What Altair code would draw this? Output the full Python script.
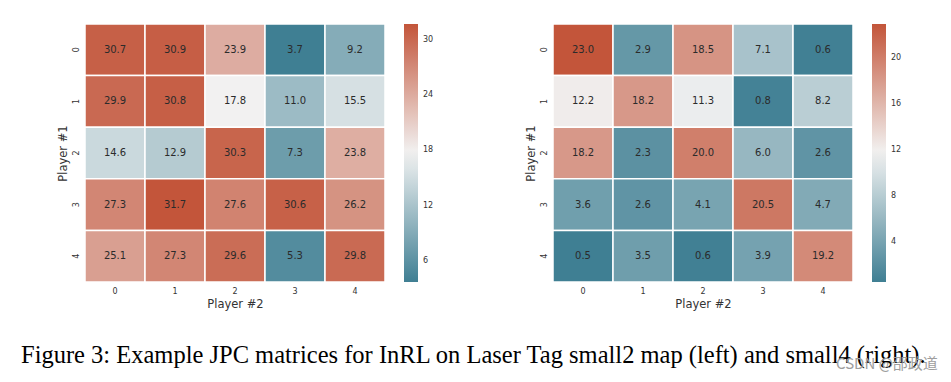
import altair as alt
import pandas as pd

players = [0, 1, 2, 3, 4]
left_values = [
    [30.7, 30.9, 23.9, 3.7, 9.2],
    [29.9, 30.8, 17.8, 11.0, 15.5],
    [14.6, 12.9, 30.3, 7.3, 23.8],
    [27.3, 31.7, 27.6, 30.6, 26.2],
    [25.1, 27.3, 29.6, 5.3, 29.8],
]
right_values = [
    [23.0, 2.9, 18.5, 7.1, 0.6],
    [12.2, 18.2, 11.3, 0.8, 8.2],
    [18.2, 2.3, 20.0, 6.0, 2.6],
    [3.6, 2.6, 4.1, 20.5, 4.7],
    [0.5, 3.5, 0.6, 3.9, 19.2],
]
left_ticks = [6, 12, 18, 24, 30]
right_ticks = [4, 8, 12, 16, 20]
x_title = "Player #2"
y_title = "Player #1"
caption = "Figure 3: Example JPC matrices for InRL on Laser Tag small2 map (left) and small4 (right)."
watermark = "CSDN @邵政道"
palette = ["#3f7f93", "#f2f2f2", "#c3553a"]

FONT = "DejaVu Sans"
INK = "#333333"


def to_df(values):
    rows = []
    for i, row in enumerate(values):
        for j, v in enumerate(row):
            rows.append({"p1": players[i], "p2": players[j], "v": v})
    return pd.DataFrame(rows)


def heatmap(values, ticks, extra):
    df = to_df(values)
    lo, hi = float(df.v.min()), float(df.v.max())
    mid = (lo + hi) / 2
    base = alt.Chart(df)
    xenc = alt.X(
        "p2:O",
        title=x_title,
        axis=alt.Axis(
            labelAngle=0, ticks=False, domain=False, grid=False,
            labelPadding=5, labelFontSize=8, labelFont=FONT, labelColor=INK,
            titleFontSize=11.5, titleFont=FONT, titleColor=INK,
            titleFontWeight="normal", titlePadding=3,
        ),
    )
    yenc = alt.Y(
        "p1:O",
        title=y_title,
        axis=alt.Axis(
            labelAngle=270, labelAlign="center", labelBaseline="bottom",
            ticks=False, domain=False, grid=False,
            labelPadding=5, labelFontSize=8, labelFont=FONT, labelColor=INK,
            titleFontSize=11.5, titleFont=FONT, titleColor=INK,
            titleFontWeight="normal", titlePadding=4,
        ),
    )
    rect = base.mark_rect(stroke="white", strokeWidth=1.5).encode(
        x=xenc,
        y=yenc,
        color=alt.Color(
            "v:Q",
            scale=alt.Scale(domain=[lo, mid, hi], range=palette, interpolate="rgb"),
            legend=alt.Legend(
                title=None, orient="right", offset=19, padding=0,
                direction="vertical",
                gradientLength=258, gradientThickness=14,
                gradientStrokeWidth=0, labelOffset=5,
                labelFontSize=8, labelFont=FONT, labelColor=INK,
                values=ticks,
            ),
        ),
    )
    text = base.mark_text(font=FONT, fontSize=10, color="#2b2b2b").encode(
        x="p2:O", y="p1:O", text=alt.Text("v:Q", format=".1f")
    )
    return alt.layer(rect, text, extra).properties(width=300, height=258)


caption_layer = alt.Chart(pd.DataFrame({"caption": [caption]})).mark_text(
    font="Liberation Serif", fontSize=24.5, align="left",
    baseline="alphabetic", color="black",
).encode(x=alt.value(-64), y=alt.value(339), text="caption:N")

watermark_layer = alt.Chart(pd.DataFrame({"mark": [watermark]})).mark_text(
    font="Noto Sans CJK SC", fontSize=15, align="left",
    baseline="middle", color="#9e9e9e",
).encode(x=alt.value(283), y=alt.value(340), text="mark:N")

left = heatmap(left_values, left_ticks, caption_layer)
right = heatmap(right_values, right_ticks, watermark_layer)

chart = (
    alt.hconcat(left, right, spacing=168, bounds="flush")
    .resolve_scale(color="independent")
    .properties(padding={"left": 13, "top": 15, "right": 0, "bottom": 0})
    .configure_view(strokeWidth=0)
)

chart.save("out.html", embed_options={"renderer": "svg", "actions": False})
